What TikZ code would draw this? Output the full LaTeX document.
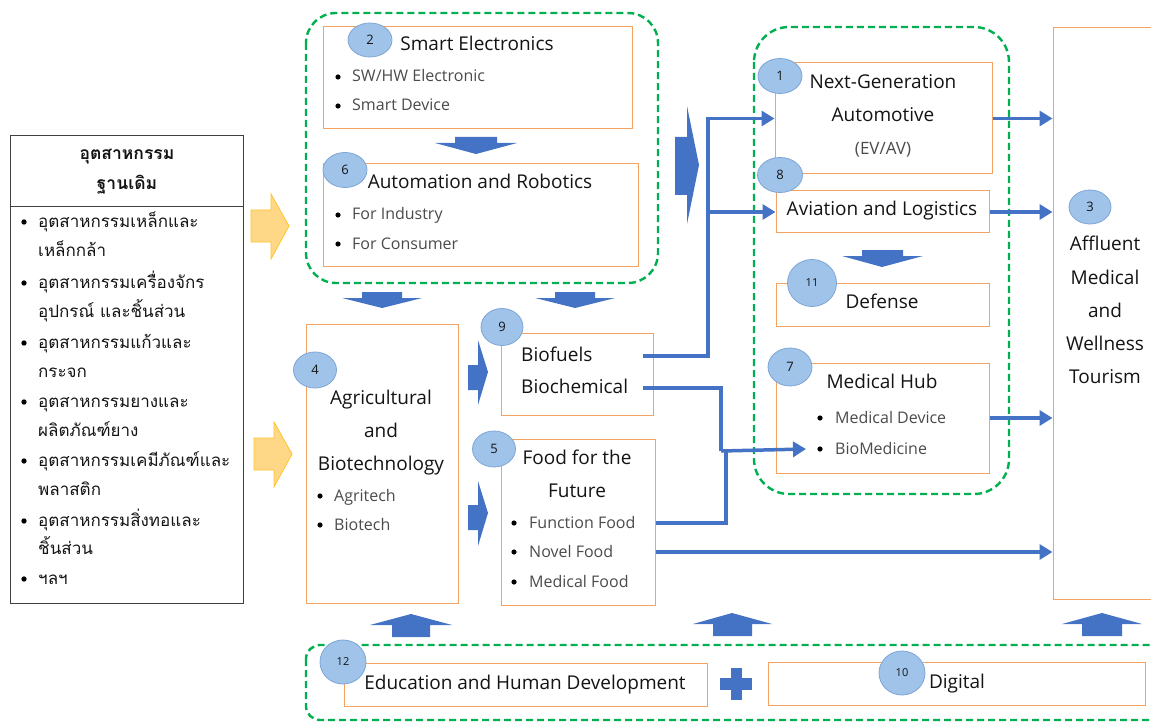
\documentclass[tikz,border=0pt]{standalone}
\usepackage{fontspec}
\setmainfont{Open Sans}
\newfontfamily\thai[Script=Thai]{Loma}
\usetikzlibrary{arrows.meta,shapes.geometric}
\definecolor{ob}{RGB}{244,162,97}
\definecolor{gd}{RGB}{0,176,80}
\definecolor{bl}{RGB}{68,114,196}
\definecolor{cf}{RGB}{160,195,233}
\definecolor{cb}{RGB}{125,165,215}
\definecolor{yf}{RGB}{255,216,135}
\definecolor{yb}{RGB}{255,195,40}
\definecolor{tx}{RGB}{20,20,20}
\definecolor{gt}{RGB}{75,75,75}
\begin{document}
\begin{tikzpicture}[x=1pt,y=-1pt,
  obox/.style={draw=ob,line width=1pt,fill=white,inner sep=0},
  gbox/.style={draw=gd,line width=2.4pt,dash pattern=on 7pt off 4pt},
  num/.style={ellipse,draw=cb,line width=0.8pt,fill=cf,inner sep=0,font=\fontsize{13}{15}\selectfont,text=tx},
  ttl/.style={inner sep=0,text height=1em,text depth=0pt,font=\fontsize{19}{22}\selectfont,text=tx},
  btx/.style={inner sep=0,text height=1em,text depth=0pt,font=\fontsize{16}{19}\selectfont,text=gt,anchor=west},
  thl/.style={inner sep=0,text height=1em,text depth=0pt,font=\thai\fontsize{17}{20}\selectfont,text=tx,anchor=west},
  conn/.style={draw=bl,line width=3.5pt},
  arr/.style={-{Triangle[length=13pt,width=15pt]}},
  blk/.style={fill=bl},
  yel/.style={fill=yf,draw=yb,line width=0.8pt}
]
\useasboundingbox (0,0) rectangle (1151,722);

% ---------- left box ----------
\node[draw=black!75,line width=1pt,minimum width=233,minimum height=467,inner sep=0] (lb) at (126.5,369.5) {};
\draw[black!75,line width=1pt] (lb.west |- 0,207) -- (lb.east |- 0,207);
\node[thl,anchor=center,font=\thai\bfseries\fontsize{17.5}{20}\selectfont] (h1) at (127,155) {อุตสาหกรรม};
\node[thl,anchor=center,font=\thai\bfseries\fontsize{17.5}{20}\selectfont] (h2) at (127,185) {ฐานเดิม};
\foreach \y in {222,283,343,402,461,521,579} \fill[black] (24,\y) circle (2.7);
\node[thl] (t1) at (38,222) {อุตสาหกรรมเหล็กและ};
\node[thl] (t2) at (38,251) {เหล็กกล้า};
\node[thl] (t3) at (38,283) {อุตสาหกรรมเครื่องจักร};
\node[thl] (t4) at (38,312) {อุปกรณ์ และชิ้นส่วน};
\node[thl] (t5) at (38,343) {อุตสาหกรรมแก้วและ};
\node[thl] (t6) at (38,372) {กระจก};
\node[thl] (t7) at (38,402) {อุตสาหกรรมยางและ};
\node[thl] (t8) at (38,431) {ผลิตภัณฑ์ยาง};
\node[thl] (t9) at (38,461) {อุตสาหกรรมเคมีภัณฑ์และ};
\node[thl] (t10) at (38,490) {พลาสติก};
\node[thl] (t11) at (38,521) {อุตสาหกรรมสิ่งทอและ};
\node[thl] (t12) at (38,549) {ชิ้นส่วน};
\node[thl] (t13) at (38,579) {ฯลฯ};

% yellow arrows
\draw[yel] (251,210)--(271,210)--(271,194)--(289,226)--(271,259)--(271,242)--(251,242)--cycle;
\draw[yel] (254,438)--(274,438)--(274,422)--(292,454)--(274,487)--(274,470)--(254,470)--cycle;

% ---------- green dashed groups ----------
\draw[gbox,rounded corners=30pt] (306,13) rectangle (658,283);
\draw[gbox,rounded corners=35pt] (754,27) rectangle (1009,494);
\draw[gbox,rounded corners=14pt] (306,645) rectangle (1175,720);

% ---------- boxes ----------
\node[obox,minimum width=309,minimum height=102] (b2) at (477.5,78) {};
\node[obox,minimum width=315,minimum height=102] (b6) at (480.5,215) {};
\node[obox,minimum width=152,minimum height=279] (b4) at (382,463.5) {};
\node[obox,minimum width=152,minimum height=82] (b9) at (577,374) {};
\node[obox,minimum width=154,minimum height=166] (b5) at (578,522) {};
\node[obox,minimum width=217,minimum height=111] (b1) at (883.5,118.5) {};
\node[obox,minimum width=213,minimum height=42] (b8) at (882.5,212) {};
\node[obox,minimum width=213,minimum height=43] (b11) at (882.5,304.5) {};
\node[obox,minimum width=213,minimum height=110] (b7) at (882.5,418) {};
\node[obox,minimum width=120,minimum height=571] (b3) at (1113,313.5) {};
\node[obox,minimum width=363,minimum height=43] (b12) at (525.5,684.5) {};
\node[obox,minimum width=377,minimum height=43] (b10) at (956.5,683.5) {};

% ---------- block arrows ----------
\fill[blk] (455,137)--(497,137)--(497,143)--(517,143)--(476,154)--(435,143)--(455,143)--cycle;
\fill[blk] (362,292)--(402,292)--(402,298)--(422,298)--(382,308)--(342,298)--(362,298)--cycle;
\fill[blk] (555,292)--(595,292)--(595,298)--(615,298)--(575,308)--(535,298)--(555,298)--cycle;
\fill[blk] (862,250)--(903,250)--(903,256)--(923,256)--(882,267)--(842,256)--(862,256)--cycle;
\fill[blk] (468,365)--(478,365)--(478,340)--(488,372)--(478,405)--(478,390)--(468,390)--cycle;
\fill[blk] (468,505)--(478,505)--(478,481)--(488,513)--(478,546)--(478,530)--(468,530)--cycle;
\fill[blk] (675,137)--(687,137)--(687,106)--(699,165)--(687,224)--(687,195)--(675,195)--cycle;
\fill[blk] (392,637)--(430,637)--(430,625)--(452,625)--(411,614)--(370,625)--(392,625)--cycle;
\fill[blk] (713,636)--(752,636)--(752,624)--(772,624)--(732,613)--(693,624)--(713,624)--cycle;
\fill[blk] (1082,636)--(1122,636)--(1122,624)--(1142,624)--(1102,613)--(1062,624)--(1082,624)--cycle;
% plus
\fill[blk] (731,668) rectangle (742,700);
\fill[blk] (720,678) rectangle (752,690);

% ---------- texts ----------
\node[ttl] (tse) at (477,46) {Smart Electronics};
\fill[black] (338,77) circle (2.6); \node[btx] (tsw) at (352,77) {SW/HW Electronic};
\fill[black] (338,106) circle (2.6); \node[btx] (tsd) at (352,106) {Smart Device};

\node[ttl] (tar) at (480,184) {Automation and Robotics};
\fill[black] (338,215) circle (2.6); \node[btx] (tfi) at (352,215) {For Industry};
\fill[black] (338,244) circle (2.6); \node[btx] (tfc) at (352,244) {For Consumer};

\node[ttl] (tag) at (381,399) {Agricultural};
\node[ttl] (tand) at (381,432) {and};
\node[ttl] (tbt) at (381,465) {Biotechnology};
\fill[black] (320,496) circle (2.6); \node[btx] (tagt) at (334,496) {Agritech};
\fill[black] (320,525) circle (2.6); \node[btx] (tbio) at (334,525) {Biotech};

\node[ttl,anchor=west] (tbf) at (521,356) {Biofuels};
\node[ttl,anchor=west] (tbc) at (521,388) {Biochemical};

\node[ttl] (tff1) at (577,459) {Food for the};
\node[ttl] (tff2) at (577,492) {Future};
\fill[black] (514,523) circle (2.6); \node[btx] (tff) at (529,523) {Function Food};
\fill[black] (514,552) circle (2.6); \node[btx] (tnf) at (529,552) {Novel Food};
\fill[black] (514,582) circle (2.6); \node[btx] (tmf) at (529,582) {Medical Food};

\node[ttl] (tng) at (883,84) {Next-Generation};
\node[ttl] (tam) at (883,117) {Automotive};
\node[btx,anchor=center,font=\fontsize{17}{20}\selectfont] (tev) at (883,150) {(EV/AV)};
\node[ttl] (tav) at (882,211) {Aviation and Logistics};
\node[ttl] (tdf) at (882,303) {Defense};
\node[ttl] (tmh) at (882,383) {Medical Hub};
\fill[black] (820,418) circle (2.6); \node[btx] (tmd) at (835,418) {Medical Device};
\fill[black] (820,449) circle (2.6); \node[btx] (tbm) at (835,449) {BioMedicine};

\node[ttl] (ta1) at (1105,246) {Affluent};
\node[ttl] (ta2) at (1105,279) {Medical};
\node[ttl] (ta3) at (1105,312) {and};
\node[ttl] (ta4) at (1105,345) {Wellness};
\node[ttl] (ta5) at (1105,378) {Tourism};

\node[ttl] (ted) at (525,684) {Education and Human Development};
\node[ttl] (tdg) at (957,683) {Digital};

% ---------- number circles ----------
\node[num,minimum width=44,minimum height=34] (c2) at (370,40) {2};
\node[num,minimum width=44,minimum height=35] (c6) at (345,170) {6};
\node[num,minimum width=43,minimum height=36] (c4) at (315,370) {4};
\node[num,minimum width=42,minimum height=37] (c9) at (502,327) {9};
\node[num,minimum width=43,minimum height=36] (c5) at (494,449) {5};
\node[num,minimum width=44,minimum height=35] (c1) at (780,76) {1};
\node[num,minimum width=45,minimum height=35] (c8) at (780,175) {8};
\node[num,minimum width=49,minimum height=47,font=\fontsize{11}{13}\selectfont] (c11) at (812,283) {11};
\node[num,minimum width=44,minimum height=38] (c7) at (790,367) {7};
\node[num,minimum width=42,minimum height=34] (c3) at (1090,207) {3};
\node[num,minimum width=46,minimum height=44,font=\fontsize{11}{13}\selectfont] (c12) at (343,662) {12};
\node[num,minimum width=46,minimum height=44,font=\fontsize{11}{13}\selectfont] (c10) at (902,673) {10};

% ---------- connectors ----------
\coordinate (j1) at (708,356);
\coordinate (j2) at (721,451);
\coordinate (j3) at (726,451);
\draw[conn,arr] ([xshift=-11pt]tbf -| b9.east) -- (j1) |- (b1.west);
\draw[conn,arr] (j1 |- b8.west) -- (b8.west);
\draw[conn] ([xshift=-11pt]tbc -| b9.east) -| (j2);
\draw[conn] (tff -| b5.east) -| (j3);
\draw[conn,arr] (j2) -- ([xshift=-29pt]tbm.west);
\draw[conn,arr] (b1.east) -- (b3.west |- b1.east);
\draw[conn,arr] (b8.east) -- (b3.west |- b8.east);
\draw[conn,arr] (b7.east) -- (b3.west |- b7.east);
\draw[conn,arr] (tnf -| b5.east) -- (b3.west |- tnf);
\end{tikzpicture}
\end{document}
